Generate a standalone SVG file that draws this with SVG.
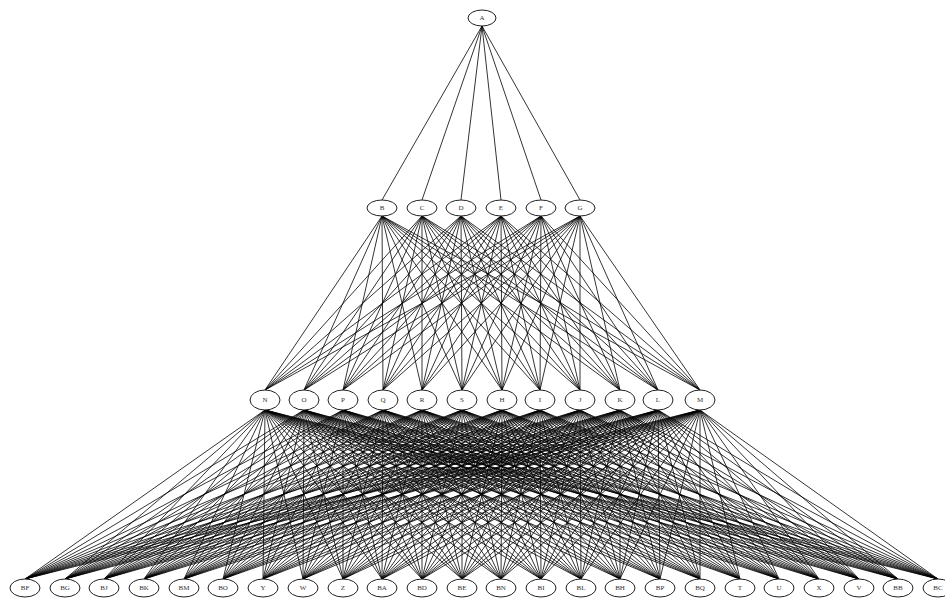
<svg xmlns="http://www.w3.org/2000/svg" width="945" height="600" viewBox="0 0 945 600">
<style>
.edges path{fill:none;stroke:#000;stroke-width:.8}
.node ellipse{fill:#fff;stroke:#222;stroke-width:1}
.node text{font-family:"Liberation Serif",serif;font-size:7px;fill:#333;text-anchor:middle;dominant-baseline:central}
</style>
<rect width="945" height="600" fill="#fff"/>
<g id="edges" class="edges">
<path d="M482 26L382 200"/><path d="M482 26L422 200"/><path d="M482 26L461 200"/><path d="M482 26L501 200"/><path d="M482 26L541 200"/><path d="M482 26L580 200"/>
<path d="M382 216L265 390"/><path d="M382 216L304 390"/><path d="M382 216L343 390"/><path d="M382 216L383 390"/><path d="M382 216L422 390"/><path d="M382 216L462 390"/><path d="M382 216L502 390"/><path d="M382 216L540 390"/><path d="M382 216L580 390"/><path d="M382 216L620 390"/><path d="M382 216L658 390"/><path d="M382 216L700 390"/>
<path d="M422 216L265 390"/><path d="M422 216L304 390"/><path d="M422 216L343 390"/><path d="M422 216L383 390"/><path d="M422 216L422 390"/><path d="M422 216L462 390"/><path d="M422 216L502 390"/><path d="M422 216L540 390"/><path d="M422 216L580 390"/><path d="M422 216L620 390"/><path d="M422 216L658 390"/><path d="M422 216L700 390"/>
<path d="M461 216L265 390"/><path d="M461 216L304 390"/><path d="M461 216L343 390"/><path d="M461 216L383 390"/><path d="M461 216L422 390"/><path d="M461 216L462 390"/><path d="M461 216L502 390"/><path d="M461 216L540 390"/><path d="M461 216L580 390"/><path d="M461 216L620 390"/><path d="M461 216L658 390"/><path d="M461 216L700 390"/>
<path d="M501 216L265 390"/><path d="M501 216L304 390"/><path d="M501 216L343 390"/><path d="M501 216L383 390"/><path d="M501 216L422 390"/><path d="M501 216L462 390"/><path d="M501 216L502 390"/><path d="M501 216L540 390"/><path d="M501 216L580 390"/><path d="M501 216L620 390"/><path d="M501 216L658 390"/><path d="M501 216L700 390"/>
<path d="M541 216L265 390"/><path d="M541 216L304 390"/><path d="M541 216L343 390"/><path d="M541 216L383 390"/><path d="M541 216L422 390"/><path d="M541 216L462 390"/><path d="M541 216L502 390"/><path d="M541 216L540 390"/><path d="M541 216L580 390"/><path d="M541 216L620 390"/><path d="M541 216L658 390"/><path d="M541 216L700 390"/>
<path d="M580 216L265 390"/><path d="M580 216L304 390"/><path d="M580 216L343 390"/><path d="M580 216L383 390"/><path d="M580 216L422 390"/><path d="M580 216L462 390"/><path d="M580 216L502 390"/><path d="M580 216L540 390"/><path d="M580 216L580 390"/><path d="M580 216L620 390"/><path d="M580 216L658 390"/><path d="M580 216L700 390"/>
<path d="M265 410L25 579"/><path d="M265 410L65 579"/><path d="M265 410L104 579"/><path d="M265 410L144 579"/><path d="M265 410L184 579"/><path d="M265 410L223 579"/><path d="M265 410L263 579"/><path d="M265 410L303 579"/><path d="M265 410L343 579"/><path d="M265 410L382 579"/><path d="M265 410L422 579"/><path d="M265 410L462 579"/><path d="M265 410L501 579"/><path d="M265 410L541 579"/><path d="M265 410L581 579"/><path d="M265 410L620 579"/><path d="M265 410L660 579"/><path d="M265 410L700 579"/><path d="M265 410L740 579"/><path d="M265 410L779 579"/><path d="M265 410L819 579"/><path d="M265 410L859 579"/><path d="M265 410L898 579"/><path d="M265 410L938 579"/>
<path d="M304 410L25 579"/><path d="M304 410L65 579"/><path d="M304 410L104 579"/><path d="M304 410L144 579"/><path d="M304 410L184 579"/><path d="M304 410L223 579"/><path d="M304 410L263 579"/><path d="M304 410L303 579"/><path d="M304 410L343 579"/><path d="M304 410L382 579"/><path d="M304 410L422 579"/><path d="M304 410L462 579"/><path d="M304 410L501 579"/><path d="M304 410L541 579"/><path d="M304 410L581 579"/><path d="M304 410L620 579"/><path d="M304 410L660 579"/><path d="M304 410L700 579"/><path d="M304 410L740 579"/><path d="M304 410L779 579"/><path d="M304 410L819 579"/><path d="M304 410L859 579"/><path d="M304 410L898 579"/><path d="M304 410L938 579"/>
<path d="M343 410L25 579"/><path d="M343 410L65 579"/><path d="M343 410L104 579"/><path d="M343 410L144 579"/><path d="M343 410L184 579"/><path d="M343 410L223 579"/><path d="M343 410L263 579"/><path d="M343 410L303 579"/><path d="M343 410L343 579"/><path d="M343 410L382 579"/><path d="M343 410L422 579"/><path d="M343 410L462 579"/><path d="M343 410L501 579"/><path d="M343 410L541 579"/><path d="M343 410L581 579"/><path d="M343 410L620 579"/><path d="M343 410L660 579"/><path d="M343 410L700 579"/><path d="M343 410L740 579"/><path d="M343 410L779 579"/><path d="M343 410L819 579"/><path d="M343 410L859 579"/><path d="M343 410L898 579"/><path d="M343 410L938 579"/>
<path d="M383 410L25 579"/><path d="M383 410L65 579"/><path d="M383 410L104 579"/><path d="M383 410L144 579"/><path d="M383 410L184 579"/><path d="M383 410L223 579"/><path d="M383 410L263 579"/><path d="M383 410L303 579"/><path d="M383 410L343 579"/><path d="M383 410L382 579"/><path d="M383 410L422 579"/><path d="M383 410L462 579"/><path d="M383 410L501 579"/><path d="M383 410L541 579"/><path d="M383 410L581 579"/><path d="M383 410L620 579"/><path d="M383 410L660 579"/><path d="M383 410L700 579"/><path d="M383 410L740 579"/><path d="M383 410L779 579"/><path d="M383 410L819 579"/><path d="M383 410L859 579"/><path d="M383 410L898 579"/><path d="M383 410L938 579"/>
<path d="M422 410L25 579"/><path d="M422 410L65 579"/><path d="M422 410L104 579"/><path d="M422 410L144 579"/><path d="M422 410L184 579"/><path d="M422 410L223 579"/><path d="M422 410L263 579"/><path d="M422 410L303 579"/><path d="M422 410L343 579"/><path d="M422 410L382 579"/><path d="M422 410L422 579"/><path d="M422 410L462 579"/><path d="M422 410L501 579"/><path d="M422 410L541 579"/><path d="M422 410L581 579"/><path d="M422 410L620 579"/><path d="M422 410L660 579"/><path d="M422 410L700 579"/><path d="M422 410L740 579"/><path d="M422 410L779 579"/><path d="M422 410L819 579"/><path d="M422 410L859 579"/><path d="M422 410L898 579"/><path d="M422 410L938 579"/>
<path d="M462 410L25 579"/><path d="M462 410L65 579"/><path d="M462 410L104 579"/><path d="M462 410L144 579"/><path d="M462 410L184 579"/><path d="M462 410L223 579"/><path d="M462 410L263 579"/><path d="M462 410L303 579"/><path d="M462 410L343 579"/><path d="M462 410L382 579"/><path d="M462 410L422 579"/><path d="M462 410L462 579"/><path d="M462 410L501 579"/><path d="M462 410L541 579"/><path d="M462 410L581 579"/><path d="M462 410L620 579"/><path d="M462 410L660 579"/><path d="M462 410L700 579"/><path d="M462 410L740 579"/><path d="M462 410L779 579"/><path d="M462 410L819 579"/><path d="M462 410L859 579"/><path d="M462 410L898 579"/><path d="M462 410L938 579"/>
<path d="M502 410L25 579"/><path d="M502 410L65 579"/><path d="M502 410L104 579"/><path d="M502 410L144 579"/><path d="M502 410L184 579"/><path d="M502 410L223 579"/><path d="M502 410L263 579"/><path d="M502 410L303 579"/><path d="M502 410L343 579"/><path d="M502 410L382 579"/><path d="M502 410L422 579"/><path d="M502 410L462 579"/><path d="M502 410L501 579"/><path d="M502 410L541 579"/><path d="M502 410L581 579"/><path d="M502 410L620 579"/><path d="M502 410L660 579"/><path d="M502 410L700 579"/><path d="M502 410L740 579"/><path d="M502 410L779 579"/><path d="M502 410L819 579"/><path d="M502 410L859 579"/><path d="M502 410L898 579"/><path d="M502 410L938 579"/>
<path d="M540 410L25 579"/><path d="M540 410L65 579"/><path d="M540 410L104 579"/><path d="M540 410L144 579"/><path d="M540 410L184 579"/><path d="M540 410L223 579"/><path d="M540 410L263 579"/><path d="M540 410L303 579"/><path d="M540 410L343 579"/><path d="M540 410L382 579"/><path d="M540 410L422 579"/><path d="M540 410L462 579"/><path d="M540 410L501 579"/><path d="M540 410L541 579"/><path d="M540 410L581 579"/><path d="M540 410L620 579"/><path d="M540 410L660 579"/><path d="M540 410L700 579"/><path d="M540 410L740 579"/><path d="M540 410L779 579"/><path d="M540 410L819 579"/><path d="M540 410L859 579"/><path d="M540 410L898 579"/><path d="M540 410L938 579"/>
<path d="M580 410L25 579"/><path d="M580 410L65 579"/><path d="M580 410L104 579"/><path d="M580 410L144 579"/><path d="M580 410L184 579"/><path d="M580 410L223 579"/><path d="M580 410L263 579"/><path d="M580 410L303 579"/><path d="M580 410L343 579"/><path d="M580 410L382 579"/><path d="M580 410L422 579"/><path d="M580 410L462 579"/><path d="M580 410L501 579"/><path d="M580 410L541 579"/><path d="M580 410L581 579"/><path d="M580 410L620 579"/><path d="M580 410L660 579"/><path d="M580 410L700 579"/><path d="M580 410L740 579"/><path d="M580 410L779 579"/><path d="M580 410L819 579"/><path d="M580 410L859 579"/><path d="M580 410L898 579"/><path d="M580 410L938 579"/>
<path d="M620 410L25 579"/><path d="M620 410L65 579"/><path d="M620 410L104 579"/><path d="M620 410L144 579"/><path d="M620 410L184 579"/><path d="M620 410L223 579"/><path d="M620 410L263 579"/><path d="M620 410L303 579"/><path d="M620 410L343 579"/><path d="M620 410L382 579"/><path d="M620 410L422 579"/><path d="M620 410L462 579"/><path d="M620 410L501 579"/><path d="M620 410L541 579"/><path d="M620 410L581 579"/><path d="M620 410L620 579"/><path d="M620 410L660 579"/><path d="M620 410L700 579"/><path d="M620 410L740 579"/><path d="M620 410L779 579"/><path d="M620 410L819 579"/><path d="M620 410L859 579"/><path d="M620 410L898 579"/><path d="M620 410L938 579"/>
<path d="M658 410L25 579"/><path d="M658 410L65 579"/><path d="M658 410L104 579"/><path d="M658 410L144 579"/><path d="M658 410L184 579"/><path d="M658 410L223 579"/><path d="M658 410L263 579"/><path d="M658 410L303 579"/><path d="M658 410L343 579"/><path d="M658 410L382 579"/><path d="M658 410L422 579"/><path d="M658 410L462 579"/><path d="M658 410L501 579"/><path d="M658 410L541 579"/><path d="M658 410L581 579"/><path d="M658 410L620 579"/><path d="M658 410L660 579"/><path d="M658 410L700 579"/><path d="M658 410L740 579"/><path d="M658 410L779 579"/><path d="M658 410L819 579"/><path d="M658 410L859 579"/><path d="M658 410L898 579"/><path d="M658 410L938 579"/>
<path d="M700 410L25 579"/><path d="M700 410L65 579"/><path d="M700 410L104 579"/><path d="M700 410L144 579"/><path d="M700 410L184 579"/><path d="M700 410L223 579"/><path d="M700 410L263 579"/><path d="M700 410L303 579"/><path d="M700 410L343 579"/><path d="M700 410L382 579"/><path d="M700 410L422 579"/><path d="M700 410L462 579"/><path d="M700 410L501 579"/><path d="M700 410L541 579"/><path d="M700 410L581 579"/><path d="M700 410L620 579"/><path d="M700 410L660 579"/><path d="M700 410L700 579"/><path d="M700 410L740 579"/><path d="M700 410L779 579"/><path d="M700 410L819 579"/><path d="M700 410L859 579"/><path d="M700 410L898 579"/><path d="M700 410L938 579"/>
</g>
<g id="A" class="node"><ellipse cx="482" cy="18" rx="14" ry="8"/><text x="482" y="18">A</text></g>
<g id="B" class="node"><ellipse cx="382" cy="208" rx="15" ry="8"/><text x="382" y="208">B</text></g>
<g id="C" class="node"><ellipse cx="422" cy="208" rx="15" ry="8"/><text x="422" y="208">C</text></g>
<g id="D" class="node"><ellipse cx="461" cy="208" rx="15" ry="8"/><text x="461" y="208">D</text></g>
<g id="E" class="node"><ellipse cx="501" cy="208" rx="15" ry="8"/><text x="501" y="208">E</text></g>
<g id="F" class="node"><ellipse cx="541" cy="208" rx="15" ry="8"/><text x="541" y="208">F</text></g>
<g id="G" class="node"><ellipse cx="580" cy="208" rx="15" ry="8"/><text x="580" y="208">G</text></g>
<g id="N" class="node"><ellipse cx="265" cy="400" rx="15" ry="10"/><text x="265" y="400">N</text></g>
<g id="O" class="node"><ellipse cx="304" cy="400" rx="15" ry="10"/><text x="304" y="400">O</text></g>
<g id="P" class="node"><ellipse cx="343" cy="400" rx="15" ry="10"/><text x="343" y="400">P</text></g>
<g id="Q" class="node"><ellipse cx="383" cy="400" rx="15" ry="10"/><text x="383" y="400">Q</text></g>
<g id="R" class="node"><ellipse cx="422" cy="400" rx="15" ry="10"/><text x="422" y="400">R</text></g>
<g id="S" class="node"><ellipse cx="462" cy="400" rx="15" ry="10"/><text x="462" y="400">S</text></g>
<g id="H" class="node"><ellipse cx="502" cy="400" rx="15" ry="10"/><text x="502" y="400">H</text></g>
<g id="I" class="node"><ellipse cx="540" cy="400" rx="15" ry="10"/><text x="540" y="400">I</text></g>
<g id="J" class="node"><ellipse cx="580" cy="400" rx="15" ry="10"/><text x="580" y="400">J</text></g>
<g id="K" class="node"><ellipse cx="620" cy="400" rx="15" ry="10"/><text x="620" y="400">K</text></g>
<g id="L" class="node"><ellipse cx="658" cy="400" rx="15" ry="10"/><text x="658" y="400">L</text></g>
<g id="M" class="node"><ellipse cx="700" cy="400" rx="15" ry="10"/><text x="700" y="400">M</text></g>
<g id="BF" class="node"><ellipse cx="25" cy="588" rx="15" ry="9"/><text x="25" y="588">BF</text></g>
<g id="BG" class="node"><ellipse cx="65" cy="588" rx="15" ry="9"/><text x="65" y="588">BG</text></g>
<g id="BJ" class="node"><ellipse cx="104" cy="588" rx="15" ry="9"/><text x="104" y="588">BJ</text></g>
<g id="BK" class="node"><ellipse cx="144" cy="588" rx="15" ry="9"/><text x="144" y="588">BK</text></g>
<g id="BM" class="node"><ellipse cx="184" cy="588" rx="15" ry="9"/><text x="184" y="588">BM</text></g>
<g id="BO" class="node"><ellipse cx="223" cy="588" rx="15" ry="9"/><text x="223" y="588">BO</text></g>
<g id="Y" class="node"><ellipse cx="263" cy="588" rx="15" ry="9"/><text x="263" y="588">Y</text></g>
<g id="W" class="node"><ellipse cx="303" cy="588" rx="15" ry="9"/><text x="303" y="588">W</text></g>
<g id="Z" class="node"><ellipse cx="343" cy="588" rx="15" ry="9"/><text x="343" y="588">Z</text></g>
<g id="BA" class="node"><ellipse cx="382" cy="588" rx="15" ry="9"/><text x="382" y="588">BA</text></g>
<g id="BD" class="node"><ellipse cx="422" cy="588" rx="15" ry="9"/><text x="422" y="588">BD</text></g>
<g id="BE" class="node"><ellipse cx="462" cy="588" rx="15" ry="9"/><text x="462" y="588">BE</text></g>
<g id="BN" class="node"><ellipse cx="501" cy="588" rx="15" ry="9"/><text x="501" y="588">BN</text></g>
<g id="BI" class="node"><ellipse cx="541" cy="588" rx="15" ry="9"/><text x="541" y="588">BI</text></g>
<g id="BL" class="node"><ellipse cx="581" cy="588" rx="15" ry="9"/><text x="581" y="588">BL</text></g>
<g id="BH" class="node"><ellipse cx="620" cy="588" rx="15" ry="9"/><text x="620" y="588">BH</text></g>
<g id="BP" class="node"><ellipse cx="660" cy="588" rx="15" ry="9"/><text x="660" y="588">BP</text></g>
<g id="BQ" class="node"><ellipse cx="700" cy="588" rx="15" ry="9"/><text x="700" y="588">BQ</text></g>
<g id="T" class="node"><ellipse cx="740" cy="588" rx="15" ry="9"/><text x="740" y="588">T</text></g>
<g id="U" class="node"><ellipse cx="779" cy="588" rx="15" ry="9"/><text x="779" y="588">U</text></g>
<g id="X" class="node"><ellipse cx="819" cy="588" rx="15" ry="9"/><text x="819" y="588">X</text></g>
<g id="V" class="node"><ellipse cx="859" cy="588" rx="15" ry="9"/><text x="859" y="588">V</text></g>
<g id="BB" class="node"><ellipse cx="898" cy="588" rx="15" ry="9"/><text x="898" y="588">BB</text></g>
<g id="BC" class="node"><ellipse cx="938" cy="588" rx="15" ry="9"/><text x="938" y="588">BC</text></g>
</svg>
